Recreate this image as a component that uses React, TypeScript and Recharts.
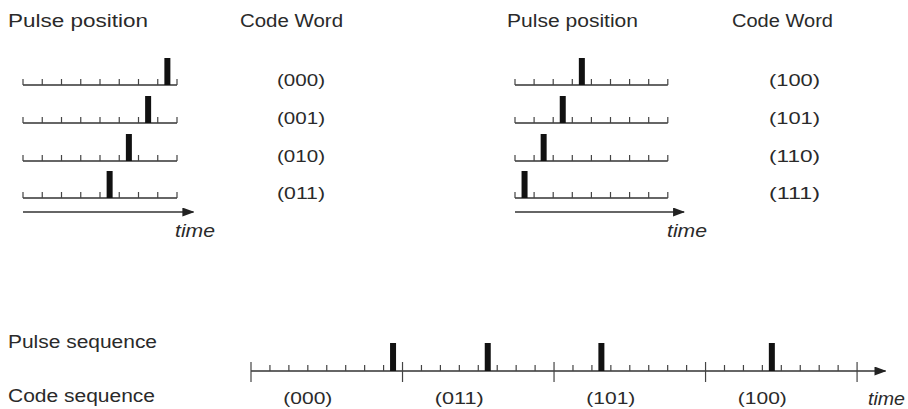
import React from 'react';
import { ScatterChart, Scatter, XAxis, YAxis } from 'recharts';

// code words and the slot (0..7) that carries the pulse
const leftCodes = ['000', '001', '010', '011'];
const leftSlots = [7, 6, 5, 4];
const rightCodes = ['100', '101', '110', '111'];
const rightSlots = [3, 2, 1, 0];

// the transmitted sequence
const seqCodes = ['000', '011', '101', '100'];
const seqWordSlots = [7, 4, 2, 3];

const rowTicks = [0, 1, 2, 3, 4, 5, 6, 7, 8];
const seqTicks = Array.from({ length: 33 }, (_, i) => i);
const seqMajors = [0, 8, 16, 24, 32];
const seqLabelAt = [3, 11, 19, 27];

const FONT = '"Liberation Sans", Arial, sans-serif';
const INK = '#2a2a2a';

type TrackProps = {
  x0: number;
  baseY: number;
  slotW: number;
  span: number;
  ticks: number[];
  majors?: number[];
  pulses?: number[];
  pulseH?: number;
  arrow?: boolean;
  showTicks?: boolean;
  labels?: Record<number, string>;
};

const PulseTrack: React.FC<TrackProps> = ({
  x0,
  baseY,
  slotW,
  span,
  ticks,
  majors = [],
  pulses = [],
  pulseH = 27,
  arrow = false,
  showTicks = true,
  labels,
}) => {
  const ML = 6;
  const MR = 16;
  const MT = 4;
  const axisH = labels ? 44 : 16;
  const W = ML + span * slotW + MR;
  const H = MT + pulseH + axisH + 2;
  const data = pulses.map((s) => ({ x: s + 0.5, y: 1 }));

  const renderTick = (props: any) => {
    const { x, y, payload } = props;
    if (!showTicks) return <g />;
    const major = majors.includes(payload.value);
    const label = labels ? labels[payload.value] : undefined;
    return (
      <g>
        <line
          x1={x}
          x2={x}
          y1={y - (major ? 9 : 6)}
          y2={y + (major ? 11 : 0)}
          stroke="#444"
          strokeWidth={1.2}
        />
        {label && (
          <text
            x={x}
            y={y + 33}
            textAnchor="middle"
            fontSize={16}
            fontFamily={FONT}
            fill={INK}
            textLength={49}
            lengthAdjust="spacingAndGlyphs"
          >
            {label}
          </text>
        )}
      </g>
    );
  };

  return (
    <div style={{ position: 'absolute', left: x0 - ML, top: baseY - pulseH - MT }}>
      <ScatterChart width={W} height={H} margin={{ top: MT, right: MR, bottom: 2, left: ML }}>
        <XAxis
          type="number"
          dataKey="x"
          domain={[0, span]}
          ticks={ticks}
          interval={0}
          allowDataOverflow
          tickSize={0}
          tickMargin={0}
          tickLine={false}
          tick={renderTick}
          height={axisH}
          axisLine={{
            stroke: '#333',
            strokeWidth: 1.6,
            markerEnd: arrow ? 'url(#pp-arrow)' : undefined,
          }}
        />
        <YAxis type="number" dataKey="y" domain={[0, 1]} hide />
        <Scatter
          data={data}
          isAnimationActive={false}
          shape={(p: any) => (
            <rect x={p.cx - 3} y={p.cy} width={6} height={pulseH} fill="#111" />
          )}
        />
      </ScatterChart>
    </div>
  );
};

const Txt: React.FC<{
  x: number;
  y: number;
  w: number;
  size: number;
  italic?: boolean;
  children: React.ReactNode;
}> = ({ x, y, w, size, italic, children }) => (
  <text
    x={x}
    y={y}
    fontSize={size}
    fontStyle={italic ? 'italic' : undefined}
    textLength={w}
    lengthAdjust="spacingAndGlyphs"
  >
    {children}
  </text>
);

const rowBase = [85, 123, 161, 198];
const LEFT = { x0: 23, slotW: 19.25, codeX: 277, timeX: 175 };
const RIGHT = { x0: 515, slotW: 19.1, codeX: 769, timeX: 667 };

export default function App() {
  const seqPulses = seqWordSlots.map((s, i) => i * 8 + s);
  const seqLabels: Record<number, string> = {};
  seqLabelAt.forEach((v, i) => {
    seqLabels[v] = `(${seqCodes[i]})`;
  });

  const block = (cfg: typeof LEFT, codes: string[], slots: number[]) => (
    <>
      {codes.map((c, i) => (
        <PulseTrack
          key={c}
          x0={cfg.x0}
          baseY={rowBase[i]}
          slotW={cfg.slotW}
          span={8}
          ticks={rowTicks}
          pulses={[slots[i]]}
        />
      ))}
      <PulseTrack
        x0={cfg.x0}
        baseY={212}
        slotW={cfg.slotW}
        span={8.85}
        ticks={[0]}
        pulseH={4}
        showTicks={false}
        arrow
      />
    </>
  );

  return (
    <div
      style={{
        position: 'absolute',
        left: 0,
        top: 0,
        width: 908,
        height: 409,
        background: '#fff',
        overflow: 'hidden',
      }}
    >
      <svg width={0} height={0} style={{ position: 'absolute' }}>
        <defs>
          <marker
            id="pp-arrow"
            viewBox="0 0 12 9"
            markerWidth={12}
            markerHeight={9}
            refX={11}
            refY={4.5}
            orient="auto"
            markerUnits="userSpaceOnUse"
          >
            <path d="M0,0 L12,4.5 L0,9 z" fill="#222" />
          </marker>
        </defs>
      </svg>

      {block(LEFT, leftCodes, leftSlots)}
      {block(RIGHT, rightCodes, rightSlots)}

      <PulseTrack
        x0={251}
        baseY={371}
        slotW={18.94}
        span={33.5}
        ticks={seqTicks}
        majors={seqMajors}
        pulses={seqPulses}
        pulseH={28}
        labels={seqLabels}
        arrow
      />

      <svg
        width={908}
        height={409}
        style={{ position: 'absolute', left: 0, top: 0, pointerEvents: 'none' }}
        fontFamily={FONT}
        fill={INK}
      >
        <Txt x={8} y={27} w={140} size={18}>Pulse position</Txt>
        <Txt x={240} y={27} w={103} size={18}>Code Word</Txt>
        <Txt x={507} y={27} w={131} size={18}>Pulse position</Txt>
        <Txt x={732} y={27} w={101} size={18}>Code Word</Txt>
        {leftCodes.map((c, i) => (
          <Txt key={c} x={LEFT.codeX} y={rowBase[i] + 1} w={48} size={16}>{`(${c})`}</Txt>
        ))}
        {rightCodes.map((c, i) => (
          <Txt key={c} x={RIGHT.codeX} y={rowBase[i] + 1} w={51} size={16}>{`(${c})`}</Txt>
        ))}
        <Txt x={LEFT.timeX} y={237} w={40} size={18} italic>time</Txt>
        <Txt x={RIGHT.timeX} y={237} w={40} size={18} italic>time</Txt>
        <Txt x={8} y={348} w={149} size={18}>Pulse sequence</Txt>
        <Txt x={8} y={402} w={147} size={18}>Code sequence</Txt>
        <Txt x={868} y={405} w={37} size={18} italic>time</Txt>
      </svg>
    </div>
  );
}
